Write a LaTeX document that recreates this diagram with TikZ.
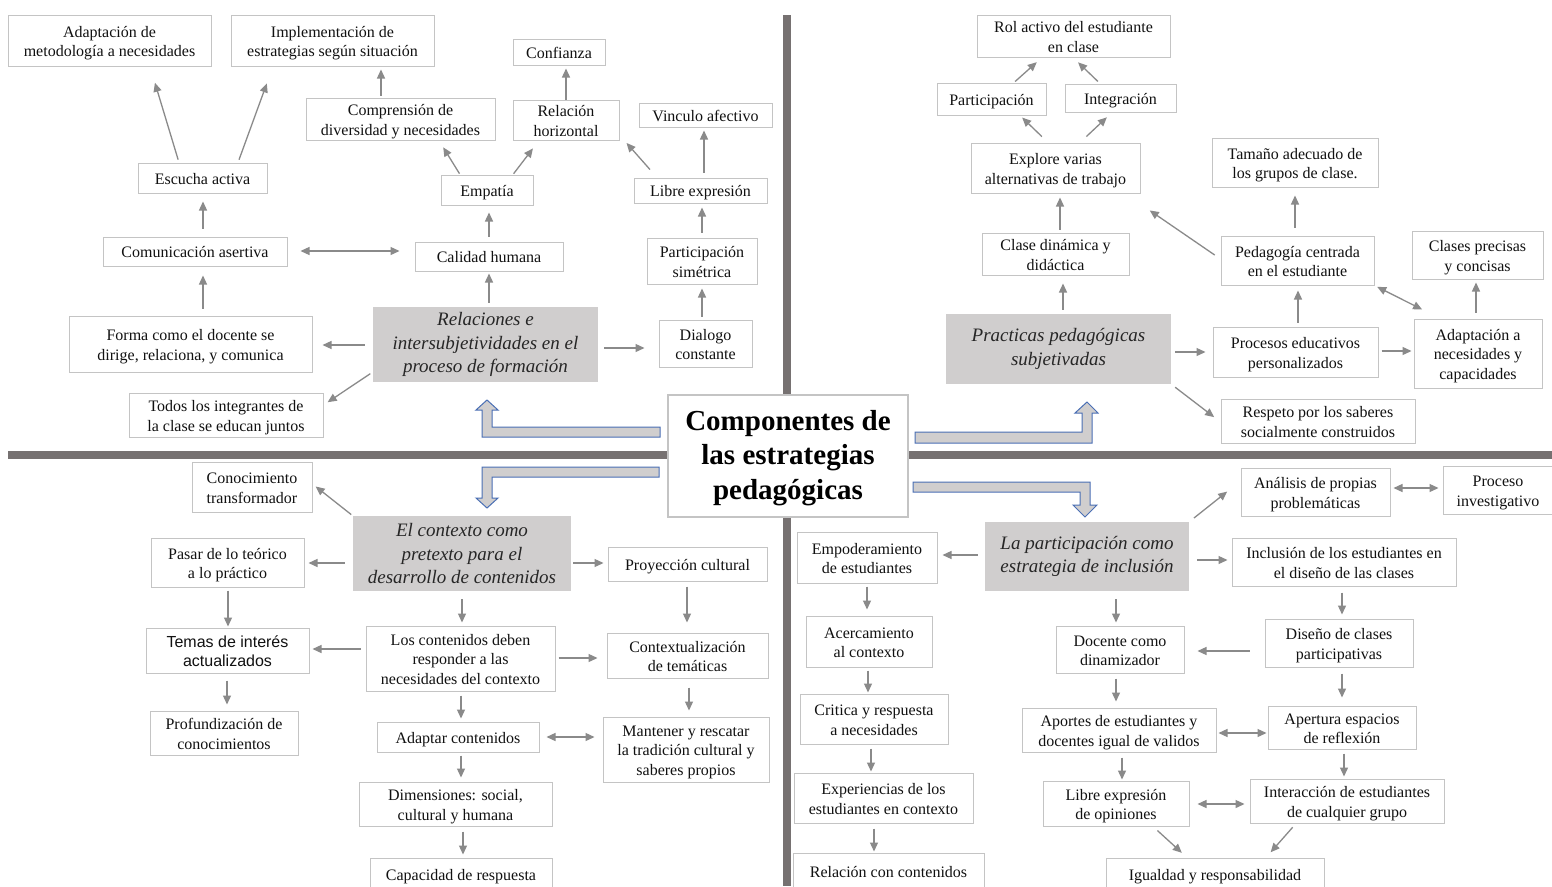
\documentclass[tikz,border=0pt]{standalone}
\usepackage{fontspec}
\setmainfont{Liberation Serif}
\newfontfamily\arialf{Liberation Sans}
\usetikzlibrary{arrows.meta}
\definecolor{boxline}{HTML}{C4C4C4}
\definecolor{arrowc}{HTML}{8A8A8A}
\definecolor{thickc}{HTML}{767171}
\definecolor{grayfill}{HTML}{D0CECE}
\definecolor{blockline}{HTML}{4A6FB5}
\definecolor{txt}{HTML}{111111}
\tikzset{
 box/.style={draw=boxline, line width=1pt, fill=white, inner sep=0pt, align=center, text=txt, font=\fontsize{16}{19.5}\selectfont},
 sansbox/.style={box, font=\arialf\fontsize{16}{19.5}\selectfont},
 topic/.style={fill=grayfill, draw=none, inner sep=0pt, align=center, text=black!85, font=\fontsize{19}{23.5}\selectfont\itshape},
 arr/.style={draw=arrowc, line width=1.3pt, -{Triangle[length=9pt,width=8pt]}},
 darr/.style={draw=arrowc, line width=1.3pt, {Triangle[length=9pt,width=8pt]}-{Triangle[length=9pt,width=8pt]}},
 blockarrow/.style={fill=grayfill, draw=blockline, line width=1pt, line join=miter},
 divider/.style={draw=thickc, line width=8pt},
}
\newcommand\lowtext[1]{\raisebox{-2.5pt}[\height][\depth]{\begin{tabular}{@{}c@{}}#1\end{tabular}}}
\newcommand\BX[7][box]{\node[#1, minimum width={(#5-#3)*1pt}, minimum height={(#6-#4)*1pt}] (#2) at ({(#3+#5)/2},{(#4+#6)/2}) {\lowtext{#7}};}
\newcommand\TP[6]{\node[topic, minimum width={(#4-#2)*1pt}, minimum height={(#5-#3)*1pt}] (#1) at ({(#2+#4)/2},{(#3+#5)/2}) {#6};}
\begin{document}
\begin{tikzpicture}[x=1pt,y=-1pt]
\useasboundingbox (0,0) rectangle (1552,886);
\fill[white] (0,0) rectangle (1552,886);
% dividers
\draw[divider] (787,15) -- (787,886);
\draw[divider] (8,455) -- (1552,455);
% block arrows
\draw[blockarrow] (660,427) -- (492,427) -- (492,410) -- (498,410) -- (487,400) -- (476,410) -- (482,410) -- (482,437) -- (660,437) -- cycle;
\draw[blockarrow] (915,432) -- (1082,432) -- (1082,413) -- (1075,413) -- (1087,402) -- (1098,413) -- (1092,413) -- (1092,443) -- (915,443) -- cycle;
\draw[blockarrow] (659,467) -- (482,467) -- (482,498) -- (476,498) -- (487,508) -- (498,498) -- (492,498) -- (492,477) -- (659,477) -- cycle;
\draw[blockarrow] (913,482) -- (1090,482) -- (1090,505) -- (1097,505) -- (1085,517) -- (1073,505) -- (1080,505) -- (1080,492) -- (913,492) -- cycle;
% title
\node[draw=boxline, line width=1.2pt, fill=white, minimum width=240pt, minimum height=122pt, inner sep=0pt, align=center, text=black, font=\fontsize{29}{34.5}\selectfont\bfseries] (title) at (788,456) {\raisebox{-2pt}[\height][\depth]{\begin{tabular}{@{}c@{}}Componentes de\\las estrategias\\pedagógicas\end{tabular}}};
% ---------- top-left
\BX{a1}{8}{15}{211}{66}{Adaptación de\\metodología a necesidades}
\BX{a2}{231}{15}{434}{66}{Implementación de\\estrategias según situación}
\BX{conf}{513}{39}{605}{65}{Confianza}
\BX{comp}{306}{98}{495}{140}{Comprensión de\\diversidad y necesidades}
\BX{relh}{513}{100}{619}{140}{Relación\\horizontal}
\BX{vinc}{639}{103}{772}{127}{Vinculo afectivo}
\BX{esc}{138}{163}{267}{193}{Escucha activa}
\BX{emp}{441}{175}{533}{205}{Empatía}
\BX{libe}{634}{178}{767}{203}{Libre expresión}
\BX{com}{103}{237}{287}{266}{Comunicación asertiva}
\BX{cal}{415}{242}{563}{271}{Calidad humana}
\BX{psim}{647}{238}{757}{284}{Participación\\simétrica}
\BX{forma}{69}{316}{312}{372}{Forma como el docente se\\dirige, relaciona, y comunica}
\TP{t1}{373}{307}{598}{382}{Relaciones e\\intersubjetividades en el\\proceso de formación}
\BX{dial}{659}{320}{752}{367}{Dialogo\\constante}
\BX{todos}{129}{393}{323}{437}{Todos los integrantes de\\la clase se educan juntos}
% ---------- top-right
\BX{rol}{977}{15}{1170}{57}{Rol activo del estudiante\\en clase}
\BX{partic}{937}{83}{1046}{115}{Participación}
\BX{integ}{1065}{84}{1176}{112}{Integración}
\BX{expl}{971}{143}{1140}{193}{Explore varias\\alternativas de trabajo}
\BX{clase}{982}{233}{1129}{275}{Clase dinámica y\\didáctica}
\TP{t2}{946}{314}{1171}{384}{Practicas pedagógicas\\subjetivadas}
\BX{tam}{1212}{138}{1378}{187}{Tamaño adecuado de\\los grupos de clase.}
\BX{ped}{1221}{236}{1374}{285}{Pedagogía centrada\\en el estudiante}
\BX{cpre}{1412}{231}{1543}{279}{Clases precisas\\y concisas}
\BX{proc}{1213}{327}{1378}{377}{Procesos educativos\\personalizados}
\BX{adap}{1414}{319}{1542}{388}{Adaptación a\\necesidades y\\capacidades}
\BX{resp}{1221}{399}{1415}{443}{Respeto por los saberes\\socialmente construidos}
% ---------- bottom-left
\BX{conoc}{192}{462}{312}{512}{Conocimiento\\transformador}
\TP{t3}{353}{516}{571}{591}{El contexto como\\pretexto para el\\desarrollo de contenidos}
\BX{pasar}{151}{538}{304}{587}{Pasar de lo teórico\\a lo práctico}
\BX[sansbox]{temas}{146}{628}{309}{673}{Temas de interés\\actualizados}
\BX{prof}{150}{711}{298}{755}{Profundización de\\conocimientos}
\BX{proy}{608}{547}{767}{581}{Proyección cultural}
\BX{cont}{366}{626}{555}{691}{Los contenidos deben\\responder a las\\necesidades del contexto}
\BX{ctx}{607}{633}{768}{678}{Contextualización\\de temáticas}
\BX{adc}{377}{722}{539}{752}{Adaptar contenidos}
\BX{mant}{603}{717}{769}{782}{Mantener y rescatar\\la tradición cultural y\\saberes propios}
\BX{dim}{359}{782}{552}{826}{Dimensiones: social,\\cultural y humana}
\BX{cap}{370}{858}{552}{890}{Capacidad de respuesta}
% ---------- bottom-right
\TP{t4}{985}{522}{1189}{591}{La participación como\\estrategia de inclusión}
\BX{anal}{1241}{468}{1390}{516}{Análisis de propias\\problemáticas}
\BX{pinv}{1443}{466}{1553}{514}{Proceso\\investigativo}
\BX{incl}{1232}{538}{1456}{586}{Inclusión de los estudiantes en\\el diseño de las clases}
\BX{dis}{1265}{619}{1413}{667}{Diseño de clases\\participativas}
\BX{aper}{1268}{706}{1416}{749}{Apertura espacios\\de reflexión}
\BX{inter}{1250}{779}{1444}{823}{Interacción de estudiantes\\de cualquier grupo}
\BX{igual}{1106}{858}{1324}{890}{Igualdad y responsabilidad}
\BX{empo}{797}{532}{937}{583}{Empoderamiento\\de estudiantes}
\BX{acer}{806}{616}{932}{667}{Acercamiento\\al contexto}
\BX{crit}{800}{694}{948}{744}{Critica y respuesta\\a necesidades}
\BX{expe}{794}{773}{973}{823}{Experiencias de los\\estudiantes en contexto}
\BX{relc}{793}{853}{984}{890}{Relación con contenidos}
\BX{doc}{1056}{626}{1184}{673}{Docente como\\dinamizador}
\BX{aport}{1022}{708}{1216}{752}{Aportes de estudiantes y\\docentes igual de validos}
\BX{libop}{1043}{781}{1189}{826}{Libre expresión\\de opiniones}
% ---------- connectors top-left
\draw[arr, shorten <=3pt, shorten >=17pt] (esc.north -| 179,0) -- (a1.south -| 150,0);
\draw[arr, shorten <=3pt, shorten >=18pt] (esc.north -| 238,0) -- (a2.south -| 273,0);
\draw[arr, shorten <=2pt, shorten >=3pt] (comp.north -| 381,0) -- (a2.south -| 381,0);
\draw[arr, shorten <=1pt, shorten >=8pt] (emp.north -| 460,0) -- (comp.south -| 439,0);
\draw[arr, shorten <=1pt, shorten >=10pt] (emp.north -| 513,0) -- (relh.south -| 539,0);
\draw[arr, shorten >=3pt] (relh.north -| 566,0) -- (conf.south -| 566,0);
\draw[arr, shorten <=10.6pt, shorten >=10.6pt] (libe.north -| 657,0) -- (relh.east |- 0,135);
\draw[arr, shorten <=5pt, shorten >=3pt] (libe.north -| 704,0) -- (vinc.south -| 704,0);
\draw[arr, shorten <=8pt, shorten >=8pt] (com.north -| 203,0) -- (esc.south -| 203,0);
\draw[darr, shorten <=13pt, shorten >=15pt] (com.east |- 0,251) -- (cal.west |- 0,251);
\draw[arr, shorten <=5pt, shorten >=7pt] (cal.north -| 489,0) -- (emp.south -| 489,0);
\draw[arr, shorten <=7pt, shorten >=9pt] (forma.north -| 203,0) -- (com.south -| 203,0);
\draw[arr, shorten <=4pt, shorten >=2pt] (t1.north -| 489,0) -- (cal.south -| 489,0);
\draw[arr, shorten <=8pt, shorten >=10pt] (t1.west |- 0,345) -- (forma.east |- 0,345);
\draw[arr, shorten <=3pt, shorten >=5pt] (t1.west |- 0,372) -- (todos.east |- 0,405);
\draw[arr, shorten <=6pt, shorten >=14pt] (t1.east |- 0,348) -- (dial.west |- 0,348);
\draw[arr, shorten <=3pt, shorten >=4pt] (dial.north -| 702,0) -- (psim.south -| 702,0);
\draw[arr, shorten <=5pt, shorten >=4pt] (psim.north -| 702,0) -- (libe.south -| 702,0);
% ---------- connectors top-right
\draw[arr, shorten <=1.5pt, shorten >=7pt] (partic.north -| 1014,0) -- (rol.south -| 1042,0);
\draw[arr, shorten <=3pt, shorten >=7pt] (integ.north -| 1100,0) -- (rol.south -| 1073,0);
\draw[arr, shorten <=8.5pt, shorten >=3pt] (expl.north -| 1048,0) -- (partic.south -| 1020,0);
\draw[arr, shorten <=8.7pt, shorten >=7pt] (expl.north -| 1080,0) -- (integ.south -| 1112,0);
\draw[arr, shorten <=3pt, shorten >=4pt] (clase.north -| 1060,0) -- (expl.south -| 1060,0);
\draw[arr, shorten <=4pt, shorten >=8pt] (t2.north -| 1063,0) -- (clase.south -| 1063,0);
\draw[arr, shorten <=7pt, shorten >=30pt] (ped.west |- 0,259) -- (expl.south -| 1125,0);
\draw[arr, shorten <=8pt, shorten >=8pt] (ped.north -| 1295,0) -- (tam.south -| 1295,0);
\draw[arr, shorten <=4pt, shorten >=5pt] (proc.north -| 1298,0) -- (ped.south -| 1298,0);
\draw[darr, shorten <=3pt, shorten >=20pt] (ped.south east) -- (adap.north -| 1440,0);
\draw[arr, shorten <=6pt, shorten >=3pt] (adap.north -| 1476,0) -- (cpre.south -| 1476,0);
\draw[arr, shorten <=3pt, shorten >=2pt] (proc.east |- 0,351) -- (adap.west |- 0,351);
\draw[arr, shorten <=4pt, shorten >=7pt] (t2.east |- 0,352) -- (proc.west |- 0,352);
\draw[arr, shorten <=5pt, shorten >=8pt] (t2.south east) -- (resp.west |- 0,422);
% ---------- connectors bottom-left
\draw[arr, shorten <=2pt, shorten >=4pt] (t3.north west) -- (conoc.east |- 0,484);
\draw[arr, shorten <=8pt, shorten >=4pt] (t3.west |- 0,563) -- (pasar.east |- 0,563);
\draw[arr, shorten <=2pt, shorten >=4pt] (t3.east |- 0,563) -- (proy.west |- 0,563);
\draw[arr, shorten <=8pt, shorten >=3pt] (t3.south -| 462,0) -- (cont.north -| 462,0);
\draw[arr, shorten <=3pt, shorten >=1pt] (pasar.south -| 228,0) -- (temas.north -| 228,0);
\draw[arr, shorten <=5pt, shorten >=3pt] (cont.west |- 0,649) -- (temas.east |- 0,649);
\draw[arr, shorten <=7pt, shorten >=6pt] (temas.south -| 227,0) -- (prof.north -| 227,0);
\draw[arr, shorten <=5pt, shorten >=10pt] (proy.south -| 687,0) -- (ctx.north -| 687,0);
\draw[arr, shorten <=3pt, shorten >=9pt] (cont.east |- 0,658) -- (ctx.west |- 0,658);
\draw[arr, shorten <=4pt, shorten >=3pt] (cont.south -| 461,0) -- (adc.north -| 461,0);
\draw[arr, shorten <=9pt, shorten >=6pt] (ctx.south -| 689,0) -- (mant.north -| 689,0);
\draw[darr, shorten <=7pt, shorten >=8pt] (adc.east |- 0,737) -- (mant.west |- 0,737);
\draw[arr, shorten <=3pt, shorten >=4pt] (adc.south -| 461,0) -- (dim.north -| 461,0);
\draw[arr, shorten <=5pt, shorten >=3pt] (dim.south -| 463,0) -- (cap.north -| 463,0);
% ---------- connectors bottom-right
\draw[arr, shorten <=7pt, shorten >=5pt] (t4.west |- 0,555) -- (empo.east |- 0,555);
\draw[arr, shorten <=6pt, shorten >=17pt] (t4.north east) -- (anal.west |- 0,481);
\draw[arr, shorten <=8pt, shorten >=4pt] (t4.east |- 0,560) -- (incl.west |- 0,560);
\draw[darr, shorten <=3pt, shorten >=4pt] (anal.east |- 0,488) -- (pinv.west |- 0,488);
\draw[arr, shorten <=8pt, shorten >=3pt] (t4.south -| 1116,0) -- (doc.north -| 1116,0);
\draw[arr, shorten <=6pt, shorten >=4pt] (incl.south -| 1342,0) -- (dis.north -| 1342,0);
\draw[arr, shorten <=15pt, shorten >=13pt] (dis.west |- 0,651) -- (doc.east |- 0,651);
\draw[arr, shorten <=6pt, shorten >=8pt] (dis.south -| 1342,0) -- (aper.north -| 1342,0);
\draw[arr, shorten <=5pt, shorten >=6pt] (doc.south -| 1116,0) -- (aport.north -| 1116,0);
\draw[darr, shorten <=2pt, shorten >=1pt] (aport.east |- 0,733) -- (aper.west |- 0,733);
\draw[arr, shorten <=4pt, shorten >=2pt] (aper.south -| 1344,0) -- (inter.north -| 1344,0);
\draw[arr, shorten <=5pt, shorten >=1pt] (aport.south -| 1122,0) -- (libop.north -| 1122,0);
\draw[darr, shorten <=8pt, shorten >=5pt] (libop.east |- 0,804) -- (inter.west |- 0,804);
\draw[arr, shorten <=6pt, shorten >=7pt] (libop.south -| 1153,0) -- (igual.north -| 1187,0);
\draw[arr, shorten <=5pt, shorten >=7pt] (inter.south -| 1296,0) -- (igual.north -| 1266,0);
\draw[arr, shorten <=3pt, shorten >=6pt] (empo.south -| 867,0) -- (acer.north -| 867,0);
\draw[arr, shorten <=3pt, shorten >=1pt] (acer.south -| 868,0) -- (crit.north -| 868,0);
\draw[arr, shorten <=4pt, shorten >=1pt] (crit.south -| 871,0) -- (expe.north -| 871,0);
\draw[arr, shorten <=5pt, shorten >=1pt] (expe.south -| 874,0) -- (relc.north -| 874,0);
\end{tikzpicture}
\end{document}
